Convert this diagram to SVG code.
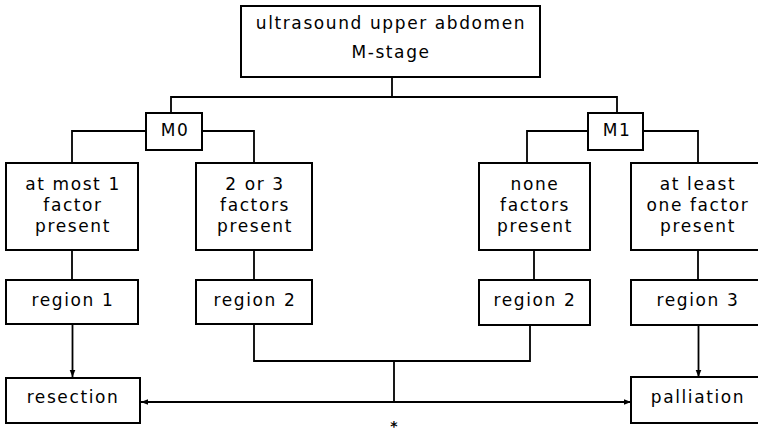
<svg xmlns="http://www.w3.org/2000/svg" width="758" height="435" viewBox="0 0 758 435">
<style>
.box{fill:#fff;stroke:#000;stroke-width:2}
.t{font-family:"DejaVu Sans","Liberation Sans",sans-serif;font-size:17px;letter-spacing:1.6px;fill:#000;text-anchor:middle}
.c{fill:none;stroke:#000;stroke-width:1.8}
</style>
<defs>
<marker id="ah" viewBox="0 0 10 10" refX="10" refY="5" markerWidth="7" markerHeight="7" markerUnits="userSpaceOnUse" orient="auto">
<path d="M0,1 L10,5 L0,9 z" fill="#000"/>
</marker>
</defs>
<rect width="758" height="435" fill="#fff"/>
<g id="connectors">
<path class="c" d="M392,77 V97 M171,113 V97 H617 V113"/>
<path class="c" d="M147,131 H72 V163 M201,131 H254 V163"/>
<path class="c" d="M588,131 H527 V163 M643,131 H698 V163"/>
<path class="c" d="M72,250 V280 M254,250 V280 M534,250 V280 M698,250 V280"/>
<path class="c" d="M72.5,324 V377" marker-end="url(#ah)"/>
<path class="c" d="M698.5,325 V377" marker-end="url(#ah)"/>
<path class="c" d="M254,324 V361 H530 V325 M394,361 V402"/>
<path class="c" d="M394,402 H141" marker-end="url(#ah)"/>
<path class="c" d="M394,402 H631" marker-end="url(#ah)"/>
</g>
<g id="top"><rect class="box" x="241" y="6" width="299" height="71"/>
<text class="t" x="391" y="29">ultrasound upper abdomen</text>
<text class="t" x="391" y="58">M-stage</text></g>
<g id="m0"><rect class="box" x="146" y="113" width="56" height="37"/><text class="t" x="175" y="136">M0</text></g>
<g id="m1"><rect class="box" x="588" y="113" width="55" height="37"/><text class="t" x="617" y="136">M1</text></g>
<g id="f1"><rect class="box" x="6" y="163" width="132" height="87"/>
<text class="t" x="73" y="190">at most 1</text><text class="t" x="73" y="211">factor</text><text class="t" x="73" y="232">present</text></g>
<g id="f2"><rect class="box" x="196" y="163" width="116" height="87"/>
<text class="t" x="255" y="190">2 or 3</text><text class="t" x="255" y="211">factors</text><text class="t" x="255" y="232">present</text></g>
<g id="f3"><rect class="box" x="479" y="163" width="111" height="87"/>
<text class="t" x="535" y="190">none</text><text class="t" x="535" y="211">factors</text><text class="t" x="535" y="232">present</text></g>
<g id="f4"><rect class="box" x="631" y="163" width="133" height="87"/>
<text class="t" x="698" y="190">at least</text><text class="t" x="698" y="211">one factor</text><text class="t" x="698" y="232">present</text></g>
<g id="r1"><rect class="box" x="6" y="280" width="132" height="44"/><text class="t" x="73" y="306">region 1</text></g>
<g id="r2a"><rect class="box" x="196" y="280" width="116" height="44"/><text class="t" x="255" y="306">region 2</text></g>
<g id="r2b"><rect class="box" x="479" y="280" width="111" height="45"/><text class="t" x="535" y="306">region 2</text></g>
<g id="r3"><rect class="box" x="631" y="280" width="133" height="45"/><text class="t" x="698" y="306">region 3</text></g>
<g id="resection"><rect class="box" x="6" y="378" width="134" height="45"/><text class="t" x="73" y="403">resection</text></g>
<g id="palliation"><rect class="box" x="631" y="377" width="133" height="46"/><text class="t" x="698" y="403">palliation</text></g>
<text x="394" y="431" style="font-family:'DejaVu Sans',sans-serif;font-size:14px;font-weight:bold;text-anchor:middle">*</text>
</svg>
